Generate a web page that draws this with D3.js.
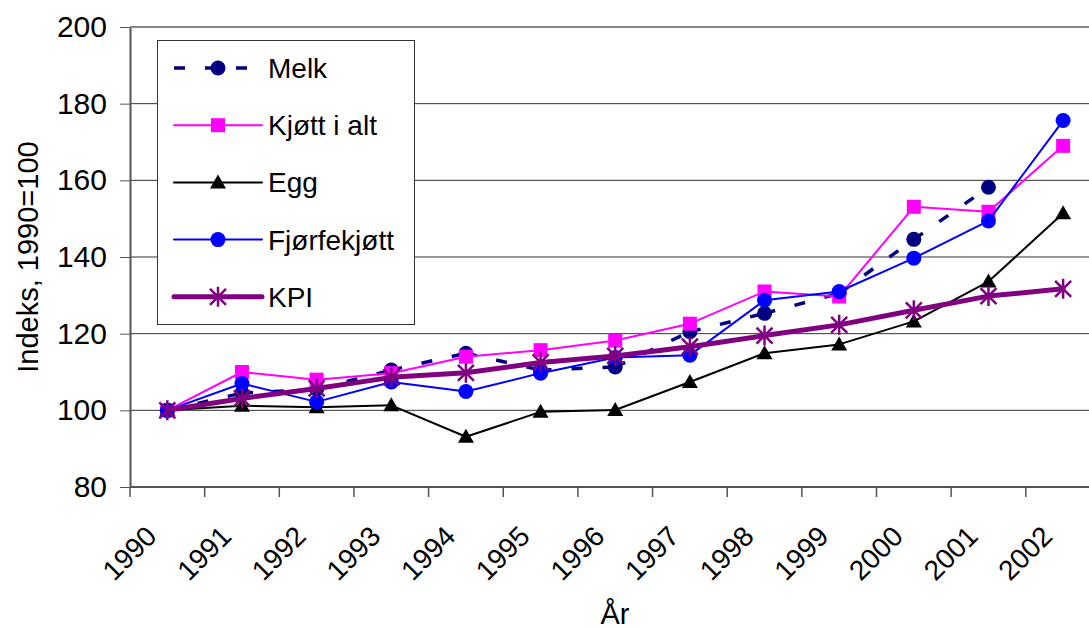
<!DOCTYPE html>
<meta charset="utf-8">
<style>
body { margin: 0; background: #fff; }
svg { font-family: Arial, "Liberation Sans", sans-serif; }
.axis path, .axis line { stroke: #555; }
.axis text { fill: #000; }
</style>
<svg width="1089" height="630"></svg>
<script src="https://cdn.jsdelivr.net/npm/d3@7"></script>
<script>

var years  = ["1990","1991","1992","1993","1994","1995","1996","1997","1998","1999","2000","2001","2002"];
var melk   = [100, 104.5, 105.5, 110.5, 114.9, 110.5, 111.3, 120.5, 125.3, 130.5, 144.6, 158.2, null];
var kjott  = [100, 110, 108, 109.7, 114, 115.7, 118.2, 122.6, 131, 129.7, 153.1, 151.8, 169];
var egg    = [100, 101.2, 100.8, 101.3, 93.1, 99.6, 100.1, 107.4, 114.9, 117.2, 123.2, 133.6, 151.4];
var fjorfe = [100, 107, 102.2, 107.4, 104.9, 109.7, 113.8, 114.4, 128.7, 131, 139.7, 149.4, 175.6];
var kpi    = [100, 103.1, 105.7, 108.6, 109.8, 112.5, 114.2, 116.6, 119.5, 122.3, 126.1, 129.8, 131.7];
var yTicks = [80, 100, 120, 140, 160, 180, 200];

var series = [
  {name: "Melk",        values: melk,   color: "#000080", width: 3.5, dash: "11,20", marker: "circle"},
  {name: "Kjøtt i alt", values: kjott,  color: "#ff00ff", width: 2,   dash: null,    marker: "square"},
  {name: "Egg",         values: egg,    color: "#000000", width: 2,   dash: null,    marker: "triangle"},
  {name: "Fjørfekjøtt", values: fjorfe, color: "#0000ff", width: 2,   dash: null,    marker: "circle"},
  {name: "KPI",         values: kpi,    color: "#800080", width: 5,   dash: null,    marker: "star"}
];

var svg = d3.select("svg");
var plotLeft = 130, plotTop = 27, plotBottom = 487, step = 74.65;

var x = d3.scaleBand().domain(years).range([plotLeft, plotLeft + step * years.length]);
var y = d3.scaleLinear().domain([80, 200]).range([plotBottom, plotTop]);
function cx(i) { return x(years[i]) + x.bandwidth() / 2; }

// gridlines
svg.append("g").selectAll("line")
    .data(yTicks.slice(1, -1))
  .enter().append("line")
    .attr("x1", plotLeft).attr("x2", 1089)
    .attr("y1", function(d) { return y(d); })
    .attr("y2", function(d) { return y(d); })
    .attr("stroke", "#333").attr("stroke-width", 1);

// plot border top
svg.append("line")
    .attr("x1", plotLeft).attr("x2", 1089)
    .attr("y1", y(200)).attr("y2", y(200))
    .attr("stroke", "#888").attr("stroke-width", 2);

// y axis
var yAxis = svg.append("g")
    .attr("class", "axis")
    .attr("transform", "translate(" + plotLeft + ",0)")
    .call(d3.axisLeft(y).tickValues(yTicks).tickSize(10).tickPadding(13).tickSizeOuter(0));
yAxis.select(".domain").attr("stroke-width", 2).attr("stroke", "#777");
yAxis.selectAll("text").attr("font-size", 30);

// x axis line and ticks at category edges
svg.append("line")
    .attr("x1", plotLeft).attr("x2", 1089)
    .attr("y1", plotBottom).attr("y2", plotBottom)
    .attr("stroke", "#555").attr("stroke-width", 2);
svg.append("g").selectAll("line")
    .data(years)
  .enter().append("line")
    .attr("x1", function(d) { return x(d); })
    .attr("x2", function(d) { return x(d); })
    .attr("y1", plotBottom).attr("y2", plotBottom + 10)
    .attr("stroke", "#555").attr("stroke-width", 1.5);

svg.append("g").selectAll("text")
    .data(years)
  .enter().append("text")
    .attr("transform", function(d, i) { return "translate(" + (cx(i) - 9) + ",538) rotate(-45)"; })
    .attr("text-anchor", "end")
    .attr("font-size", 28)
    .text(function(d) { return d; });

// axis titles
svg.append("text")
    .attr("transform", "translate(38,257) rotate(-90)")
    .attr("text-anchor", "middle")
    .attr("font-size", 29)
    .text("Indeks, 1990=100");
svg.append("text")
    .attr("x", 615).attr("y", 624)
    .attr("text-anchor", "middle")
    .attr("font-size", 29)
    .text("År");

function drawMarker(g, type, px, py, color) {
  if (type == "circle") {
    g.append("circle").attr("cx", px).attr("cy", py).attr("r", 7.5).attr("fill", color);
  } else if (type == "square") {
    g.append("rect").attr("x", px - 7).attr("y", py - 7).attr("width", 14).attr("height", 14).attr("fill", color);
  } else if (type == "triangle") {
    g.append("path").attr("d", "M" + px + "," + (py - 8) + "L" + (px + 8) + "," + (py + 6) + "L" + (px - 8) + "," + (py + 6) + "Z")
        .attr("fill", color);
  } else if (type == "star") {
    var s = 10;
    g.append("path")
        .attr("d", "M" + px + "," + (py - s) + "V" + (py + s) +
                   "M" + (px - s * 0.8) + "," + (py - s * 0.8) + "L" + (px + s * 0.8) + "," + (py + s * 0.8) +
                   "M" + (px + s * 0.8) + "," + (py - s * 0.8) + "L" + (px - s * 0.8) + "," + (py + s * 0.8))
        .attr("stroke", color).attr("stroke-width", 2.5).attr("fill", "none");
  }
}

var plot = svg.append("g");
series.forEach(function(s) {
  var g = plot.append("g");
  // each segment drawn on its own so the dash pattern restarts like in Excel
  for (var i = 0; i < s.values.length - 1; i++) {
    if (s.values[i] == null || s.values[i + 1] == null) continue;
    g.append("line")
        .attr("x1", cx(i)).attr("y1", y(s.values[i]))
        .attr("x2", cx(i + 1)).attr("y2", y(s.values[i + 1]))
        .attr("stroke", s.color)
        .attr("stroke-width", s.width)
        .attr("stroke-linecap", s.dash ? "butt" : "round")
        .attr("stroke-dasharray", s.dash);
  }
  s.values.forEach(function(v, i) {
    if (v == null) return;
    drawMarker(g, s.marker, cx(i), y(v), s.color);
  });
});

// legend
var legend = svg.append("g");
legend.append("rect")
    .attr("x", 157.5).attr("y", 40.5).attr("width", 257).attr("height", 284)
    .attr("fill", "#fff").attr("stroke", "#333").attr("stroke-width", 1);
series.forEach(function(s, i) {
  var ly = 68 + i * 57.2;
  legend.append("line")
      .attr("x1", 174).attr("x2", 262)
      .attr("y1", ly).attr("y2", ly)
      .attr("stroke", s.color)
      .attr("stroke-width", s.width)
      .attr("stroke-linecap", s.dash ? "butt" : "round")
      .attr("stroke-dasharray", s.dash);
  drawMarker(legend, s.marker, 218, ly, s.color);
  legend.append("text")
      .attr("x", 268).attr("y", ly + 10)
      .attr("font-size", 28)
      .text(s.name);
});

</script>
